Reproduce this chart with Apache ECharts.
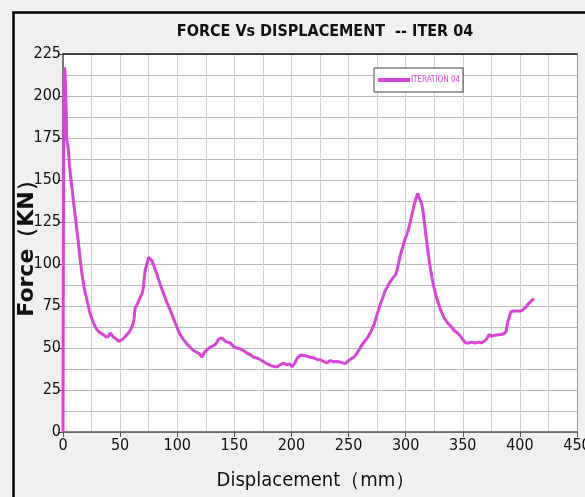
<!DOCTYPE html>
<html>
<head>
<meta charset="utf-8">
<script src="https://cdn.jsdelivr.net/npm/echarts@6/dist/echarts.min.js"></script>
<style>
html,body{margin:0;padding:0;background:#f0f0f0;}
#chart{width:585px;height:497px;}
</style>
</head>
<body>
<div id="chart"></div>
<script>
const chartTitle = "FORCE Vs DISPLACEMENT  -- ITER 04";
const seriesName = "ITERATION 04";
const xAxisName = "Displacement（mm）";
const yAxisName = "Force（KN）";

const displacement = [0,0.3,0.8,1.3,1.8,2.3,2.8,3.2,3.8,4.7,5.5,6.5,7.6,9,10.5,12,13.4,15,16.4,18.5,20.8,23.5,26.6,29.5,32.5,35,38,40,41.2,42.5,44.1,46.5,48.5,50,52,54,56,58,60.3,62,63.2,65,67.5,69.5,70.4,71.2,72,73.5,74.8,76,77.8,80,82.2,85,88,91,93.9,97,99.7,102.5,105.5,109,112,114.3,117,119.5,121.6,123.5,126,129,131.9,134,136,138,140,142,144,146.5,149,152,155,158,161,164,167,170,173,175.7,179,182,185,187.5,190,193,196,198.5,200.6,203,205,208,211,214,216.7,220,223,225.4,228,231,234,237,240,243,245.5,247.4,250,252,254.7,257.5,260.5,263,266.4,269,272.2,275,278,280,282,284,286,288,289.7,291.5,293,295.6,297.5,299,301.5,303,305,307.3,309,310.5,311.5,312.5,314,315.5,317,319,321,323,324.8,327,330.7,333.5,336.6,340,343,345.4,348,350,352.6,355,358,361,364,366,368.7,371,373.1,375,377,380,383,386.2,388,389.2,390.5,392,394,397,400.9,403,405.3,407.5,409.6,411,412.5];
const force = [0,100,205,217,214,204,192,175,172,168,160,153,147,138,130,121,113,103,95,86,79,71,65,61,59,58,56.5,57,59,58,56.5,55.5,54,53.5,55,56.5,58,59.5,62.5,66,74,76,80,83,86,92,96.5,100,104,104.5,102,98,94,88,82.5,77,72.5,67,62.5,58,55,52,50,48.5,47.5,46.5,44.5,47,49,50.5,51.5,52.5,55,56,55.5,54,53.5,53,51,50,49.5,48.5,47,46,44.5,44,43,41.8,40.5,39.5,39,38.8,40,41,40,40.5,38.8,41,44,45.8,45.5,45,44.5,44,43,43,42,41.2,42.5,41.8,42,41.5,41,40.8,42.5,43.5,44.5,47,50.5,53,56,59,63.7,70,76.5,80,84,86.5,89,91,92.5,94,98,106,110,114,118.5,122,128,135,139,142,140,141,136,130,121,110,100,92,86,80,72.5,68,65,62.5,60,59,57,55,53,53,53.5,53,53.5,53,54,55.5,58,57,57.5,57.8,58,58.5,60,65,68,71.5,72,72,72,73,74.5,76.5,77.5,79,78.5];

const xTicks = {min:0, max:450, interval:50};
const yTicks = {min:0, max:225, interval:25};

const data = displacement.map((x,i)=>[x, force[i]]);
const narrow = "'Liberation Sans Narrow','DejaVu Sans Condensed','Roboto Condensed',sans-serif";

const chart = echarts.init(document.getElementById('chart'));
chart.setOption({
  backgroundColor:'#f0f0f0',
  animation:false,
  title:{
    text:chartTitle, left:320, top:19, textAlign:'center',
    textStyle:{fontFamily:narrow, fontWeight:'bold', fontSize:16, color:'#111'}
  },
  legend:{
    data:[seriesName], left:374, top:68,
    backgroundColor:'#ffffff', borderColor:'#444', borderWidth:1,
    padding:[8,3,8,4], itemWidth:32, itemHeight:4, itemGap:0,
    icon:'rect',
    textStyle:{color:'#d645d6', fontSize:8, fontFamily:narrow, padding:[0,0,0,-4]}
  },
  grid:{left:63, right:8, top:54, bottom:65, show:true, backgroundColor:'#ffffff', borderWidth:0, containLabel:false, outerBoundsMode:'none'},
  xAxis:[{
    type:'value', min:xTicks.min, max:xTicks.max, interval:xTicks.interval,
    name:xAxisName, nameLocation:'middle', nameGap:39, nameMoveOverlap:false,
    nameTextStyle:{fontFamily:narrow, fontSize:20, color:'#111', padding:[0,8,0,0]},
    axisLine:{show:true, onZero:false, lineStyle:{color:'#555', width:1.5}},
    axisTick:{show:true, length:5, lineStyle:{color:'#555'}},
    axisLabel:{fontFamily:narrow, fontSize:16, color:'#111', margin:6, hideOverlap:false},
    splitLine:{show:true, lineStyle:{color:'#cfcfcf', width:1}},
    minorTick:{show:false, splitNumber:2},
    minorSplitLine:{show:true, lineStyle:{color:'#cfcfcf', width:1}}
  },{
    type:'value', position:'top', min:xTicks.min, max:xTicks.max,
    axisLine:{show:true, onZero:false, lineStyle:{color:'#111', width:1.5}},
    axisTick:{show:false}, axisLabel:{show:false}, splitLine:{show:false}
  }],
  yAxis:[{
    type:'value', min:yTicks.min, max:yTicks.max, interval:yTicks.interval,
    name:yAxisName, nameLocation:'middle', nameGap:25, nameMoveOverlap:false,
    nameTextStyle:{fontFamily:"'DejaVu Sans',sans-serif", fontWeight:'bold', fontSize:22, color:'#111', padding:[0,0,0,0]},
    axisLine:{show:true, onZero:false, lineStyle:{color:'#555', width:1.5}},
    axisTick:{show:true, length:5, lineStyle:{color:'#555'}},
    axisLabel:{fontFamily:narrow, fontSize:16, color:'#111', margin:2},
    splitLine:{show:true, lineStyle:{color:'#b8b8b8', width:1}},
    minorTick:{show:false, splitNumber:2},
    minorSplitLine:{show:true, lineStyle:{color:'#b8b8b8', width:1}}
  },{
    type:'value', position:'right', min:yTicks.min, max:yTicks.max,
    axisLine:{show:true, onZero:false, lineStyle:{color:'#999', width:1}},
    axisTick:{show:false}, axisLabel:{show:false}, splitLine:{show:false}
  }],
  graphic:[{
    type:'rect', left:11, top:10, silent:true, z:100,
    shape:{width:600, height:520},
    style:{fill:'none', stroke:'#000', lineWidth:2.5}
  }],
  series:[{
    name:seriesName, type:'line', xAxisIndex:0, yAxisIndex:0,
    data:data, showSymbol:false, symbol:'none',
    lineStyle:{color:'#d645d6', width:3},
    itemStyle:{color:'#d645d6'}
  }]
});
</script>
</body>
</html>
